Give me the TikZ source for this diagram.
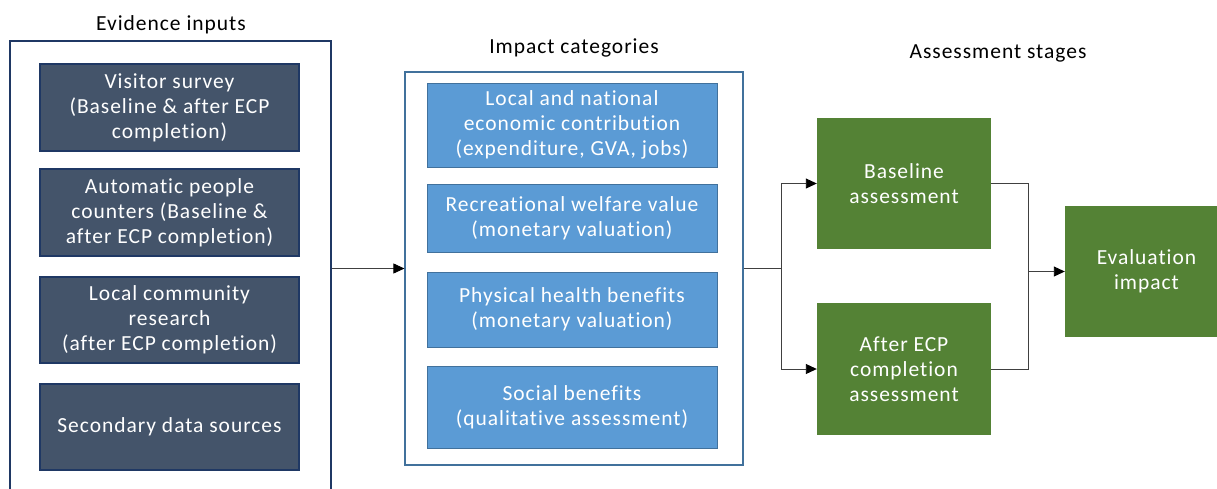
\documentclass[tikz,border=0pt]{standalone}
\usepackage{fontspec}
\setmainfont{Carlito}[LetterSpace=4.5, Ligatures=NoCommon]
\usetikzlibrary{arrows.meta}
\definecolor{slate}{HTML}{44546A}
\definecolor{navy}{HTML}{1F3864}
\definecolor{skyfill}{HTML}{5B9BD5}
\definecolor{steel}{HTML}{41719C}
\definecolor{leaf}{HTML}{548235}
\definecolor{wire}{HTML}{404040}
\tikzset{
  txt/.style={font=\fontsize{21.5}{25}\selectfont, align=center},
  title/.style={txt, text=black, inner sep=0pt},
  inputbox/.style={txt, draw=navy, line width=1.2pt, fill=slate, text=white,
    minimum width=259pt, inner sep=0pt},
  impactbox/.style={txt, draw=steel, line width=1pt, fill=skyfill, text=white,
    minimum width=290pt, inner sep=0pt},
  stagebox/.style={txt, fill=leaf, text=white, inner sep=0pt},
  frame/.style={draw, fill=white, inner sep=0pt},
  link/.style={draw=wire, line width=0.9pt},
  arrow/.style={link, -{Triangle[length=11pt,width=10pt,color=black]}}
}
\begin{document}
\begin{tikzpicture}[x=1pt,y=-1pt]
\clip (0,0) rectangle (1217,488);
\fill[white] (0,0) rectangle (1217,488);

% Evidence inputs column
\node[title] (tin) at (171,25) {Evidence inputs};
\node[frame, draw=navy, line width=1.4pt, minimum width=321pt, minimum height=459pt] (inputs) at (170.5,270.5) {};
\node[inputbox, minimum height=87pt] (survey) at (169.5,107.5) {Visitor survey\\(Baseline \& after ECP\\completion)};
\node[inputbox, minimum height=87pt] (counters) at (169.5,212.5) {Automatic people\\counters (Baseline \&\\after ECP completion)};
\node[inputbox, minimum height=86pt] (community) at (169.5,320) {Local community\\research\\(after ECP completion)};
\node[inputbox, minimum height=86pt] (secondary) at (169.5,427) {Secondary data sources};

% Impact categories column
\node[title] (tcat) at (574,48) {Impact categories};
\node[frame, draw=steel, line width=1.2pt, minimum width=338pt, minimum height=393pt] (impacts) at (574,268.5) {};
\node[impactbox, minimum height=84pt] (econ) at (572,125) {Local and national\\economic contribution\\(expenditure, GVA, jobs)};
\node[impactbox, minimum height=68pt] (welfare) at (572,218) {Recreational welfare value\\(monetary valuation)};
\node[impactbox, minimum height=75pt] (health) at (572,309.5) {Physical health benefits\\(monetary valuation)};
\node[impactbox, minimum height=82pt] (social) at (572,407) {Social benefits\\(qualitative assessment)};

% Assessment stages
\node[title] (tstage) at (998,53) {Assessment stages};
\node[stagebox, minimum width=174pt, minimum height=131pt] (base) at (904,183.5) {Baseline\\assessment};
\node[stagebox, minimum width=174pt, minimum height=132pt] (after) at (904,369) {After ECP\\completion\\assessment};
\node[stagebox, minimum width=163pt, minimum height=131pt] (eval) at (1146.5,271.5) {Evaluation\\impact};

% Connectors
\coordinate (split) at (781,268.5);
\coordinate (join) at (1028,271.5);
\draw[arrow] (impacts.west -| inputs.east) -- (impacts.west);
\draw[link] (impacts.east) -- (split);
\draw[arrow] (split) |- (base.west);
\draw[arrow] (split) |- (after.west);
\draw[link] (base.east) -| (join);
\draw[link] (after.east) -| (join);
\draw[arrow] (join) -- (eval.west);
\end{tikzpicture}
\end{document}
